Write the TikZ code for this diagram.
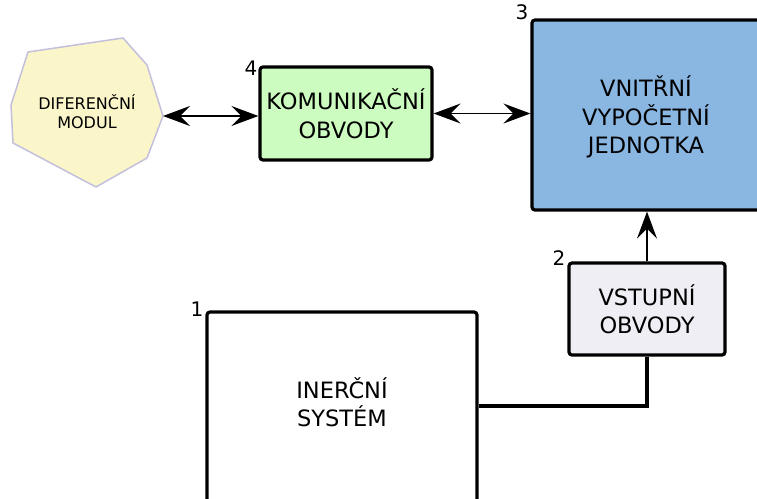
\documentclass[tikz,border=0pt]{standalone}
\usepackage{fontspec}
\setmainfont{DejaVu Sans}
\usetikzlibrary{arrows.meta}
\definecolor{polyfill}{HTML}{FBF6C9}
\definecolor{polyline}{HTML}{C4C0DC}
\definecolor{greenfill}{HTML}{CDFCC1}
\definecolor{bluefill}{HTML}{8AB6E2}
\definecolor{greyfill}{HTML}{EEEEF4}
\tikzset{
  blk/.style={draw=black, line width=3.2pt, rounded corners=3pt, inner sep=0pt, align=center,
    font=\fontsize{22.5}{28.5}\selectfont},
  plain/.style={inner sep=0pt, align=center, font=\fontsize{22.5}{28.5}\selectfont},
  numlbl/.style={inner sep=0pt, font=\fontsize{20}{20}\selectfont},
  conn/.style={line width=1.8pt, -{Stealth[length=27pt,width=20pt,inset=10pt]}},
  dconn/.style={line width=1.8pt, {Stealth[length=27pt,width=20pt,inset=10pt]}-{Stealth[length=27pt,width=20pt,inset=10pt]}},
  thick wire/.style={line width=3.2pt}
}
\begin{document}
\begin{tikzpicture}[x=1pt,y=-1pt]
\useasboundingbox (0,0) rectangle (757,498);
\clip (0,0) rectangle (757,498);
\fill[white] (0,0) rectangle (757,498);
% differential module polygon
\coordinate (p1) at (28,52);
\coordinate (p2) at (123,38);
\coordinate (p3) at (147,65);
\coordinate (difR) at (163,116);
\coordinate (p5) at (147,158);
\coordinate (p6) at (96,187);
\coordinate (p7) at (13,143);
\coordinate (p8) at (11,105);
\draw[fill=polyfill, draw=polyline, line width=1.5pt, line join=round]
  (p1) -- (p2) -- (p3) -- (difR) -- (p5) -- (p6) -- (p7) -- (p8) -- cycle;
\node[inner sep=0pt, align=center, font=\fontsize{16}{19}\selectfont] (dif) at (87,112) {DIFERENČNÍ\\MODUL};
% boxes
\node[blk, fill=greenfill, minimum width=172pt, minimum height=93pt] (kom) at (346,113.5) {KOMUNIKAČNÍ\\OBVODY};
\node[blk, fill=bluefill, minimum width=228pt, minimum height=190pt] (vni) at (646,115) {};
\node[plain] (vnitext) at (646,117) {VNITŘNÍ\\VYPOČETNÍ\\JEDNOTKA};
\node[blk, fill=greyfill, minimum width=156pt, minimum height=92pt] (vst) at (647,309) {VSTUPNÍ\\OBVODY};
\node[blk, fill=white, minimum width=270pt, minimum height=210pt] (ine) at (342,417) {};
\node[plain] (inetext) at (342,402) {INERČNÍ\\SYSTÉM};
% number labels
\node[numlbl] (n1) at (197,309) {1};
\node[numlbl] (n2) at (559,258) {2};
\node[numlbl] (n3) at (522,12) {3};
\node[numlbl] (n4) at (251,68) {4};
% connectors
\draw[dconn] (difR) -- (kom.west |- difR);
\draw[dconn] (kom.east) -- (vni.west |- kom.east);
\draw[conn] (vst.north) -- (vst.north |- vni.south);
\coordinate (bend) at (vst.south |- 0,406);
\draw[thick wire] (ine.east |- bend) -- (bend) -- (vst.south);
\end{tikzpicture}
\end{document}
